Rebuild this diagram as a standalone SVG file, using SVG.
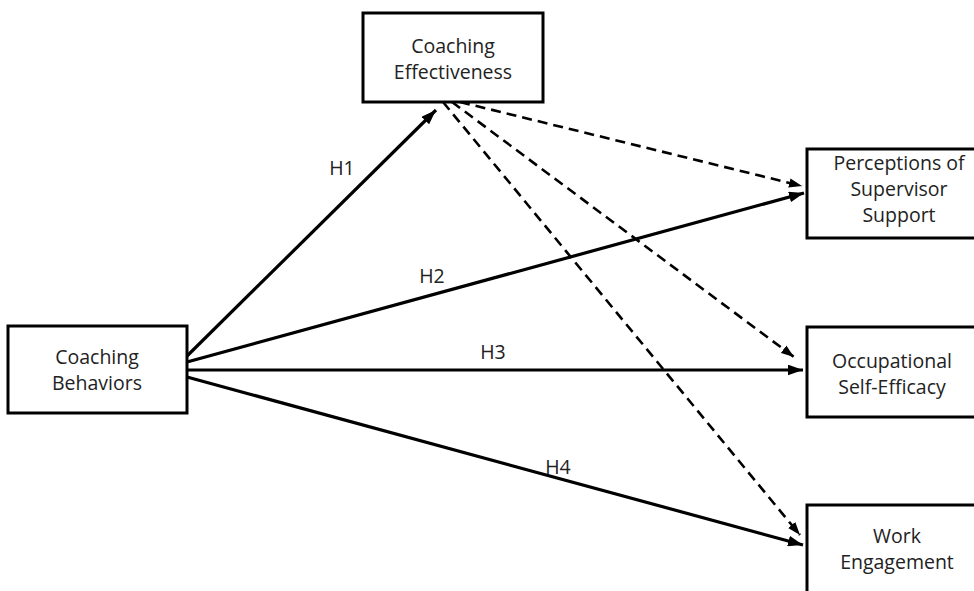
<svg xmlns="http://www.w3.org/2000/svg" width="974" height="591" viewBox="0 0 974 591">
<style>
.box{fill:#fff;stroke:#000;stroke-width:3}
.t{font-family:"Open Sans","Liberation Sans",sans-serif;font-size:19.5px;fill:#222;text-anchor:middle}
.solid{stroke:#000;stroke-width:3.2;fill:none}
.dash{stroke:#000;stroke-width:2.6;fill:none;stroke-dasharray:10 6}
</style>
<defs>
<marker id="ah" viewBox="0 0 14 10" refX="14" refY="5" markerWidth="15" markerHeight="11" markerUnits="userSpaceOnUse" orient="auto"><path d="M0,0 L14,5 L0,10 z" fill="#000"/></marker>
<marker id="ahd" viewBox="0 0 14 10" refX="14" refY="5" markerWidth="13" markerHeight="10" markerUnits="userSpaceOnUse" orient="auto"><path d="M0,0 L14,5 L0,10 z" fill="#000"/></marker>
</defs>
<rect width="974" height="591" fill="#fff"/>
<g id="connectors">
<line class="solid" x1="187" y1="356" x2="436" y2="110" marker-end="url(#ah)"/>
<line class="solid" x1="187" y1="362" x2="804" y2="193" marker-end="url(#ah)"/>
<line class="solid" x1="187" y1="370" x2="803" y2="370" marker-end="url(#ah)"/>
<line class="solid" x1="187" y1="377" x2="803" y2="545" marker-end="url(#ah)"/>
<line class="dash" x1="460" y1="102" x2="802" y2="186" marker-end="url(#ahd)"/>
<line class="dash" x1="452" y1="102" x2="794" y2="357" marker-end="url(#ahd)"/>
<line class="dash" x1="443" y1="102" x2="800" y2="535" marker-end="url(#ahd)"/>
<text class="t" x="342" y="175">H1</text>
<text class="t" x="432" y="283">H2</text>
<text class="t" x="493" y="359">H3</text>
<text class="t" x="558" y="474">H4</text>
</g>
<g id="coaching-behaviors">
<rect class="box" x="8" y="326" width="179" height="87"/>
<text class="t" x="97" y="364">Coaching</text>
<text class="t" x="97" y="390">Behaviors</text>
</g>
<g id="coaching-effectiveness">
<rect class="box" x="363" y="13" width="180" height="89"/>
<text class="t" x="453" y="53">Coaching</text>
<text class="t" x="453" y="79">Effectiveness</text>
</g>
<g id="perceptions-supervisor-support">
<rect class="box" x="807" y="149" width="185" height="89"/>
<text class="t" x="899" y="170">Perceptions of</text>
<text class="t" x="899" y="196">Supervisor</text>
<text class="t" x="899" y="222">Support</text>
</g>
<g id="occupational-self-efficacy">
<rect class="box" x="807" y="327" width="185" height="90"/>
<text class="t" x="892" y="368">Occupational</text>
<text class="t" x="892" y="394">Self-Efficacy</text>
</g>
<g id="work-engagement">
<rect class="box" x="807" y="505" width="185" height="100"/>
<text class="t" x="897" y="543">Work</text>
<text class="t" x="897" y="569">Engagement</text>
</g>
</svg>
